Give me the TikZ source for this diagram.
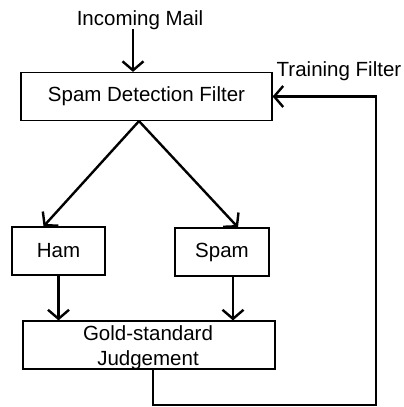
\documentclass[tikz,border=0pt]{standalone}
\usepackage{fontspec}
\setmainfont{Liberation Sans}
\usetikzlibrary{arrows.meta}

\tikzset{
	box/.style={draw,line width=1.2pt,inner sep=0pt,align=center},
	arr/.style={line width=2.4pt,-{Straight Barb[length=9pt,width=21pt,line width=2.4pt]}},
	lbl/.style={inner sep=0pt,anchor=base}
}

\begin{document}
\begin{tikzpicture}[x=1pt,y=-1pt,font=\fontsize{20.5}{25}\selectfont]
	\useasboundingbox (0,0) rectangle (404,407);
	% boxes
	\node [box,minimum width=251pt,minimum height=48pt] (filter) at (146.5,96.5) {Spam Detection Filter};
	\node [box,minimum width=93pt,minimum height=48pt] (ham) at (58.5,251) {Ham};
	\node [box,minimum width=94pt,minimum height=48pt] (spam) at (222,252) {Spam};
	\node [box,minimum width=252pt,minimum height=48pt] (gold) at (149,345) {};
	\node [inner sep=0pt,align=center] (goldtext) at (148,348) {Gold-standard\\Judgement};
	% labels
	\node [lbl] (mail) at (140,25) {Incoming Mail};
	\node [lbl] (train) at (339,76) {Training Filter};
	\coordinate (loop) at (376,405);
	% arrows
	\draw [arr] ([xshift=-7pt]mail.south) -- ([xshift=-7pt]mail.south |- filter.north);
	\draw [arr] ([xshift=-7.5pt]filter.south) -- ([xshift=-15pt]ham.north);
	\draw [arr] ([xshift=-7.5pt]filter.south) -- ([xshift=16pt]spam.north);
	\draw [arr] (ham.south) -- (ham.south |- gold.north);
	\draw [arr] ([xshift=11pt]spam.south) -- ([xshift=11pt]spam.south |- gold.north);
	\draw [arr] ([xshift=4pt]gold.south) |- (loop) |- (filter.east);
\end{tikzpicture}
\end{document}
